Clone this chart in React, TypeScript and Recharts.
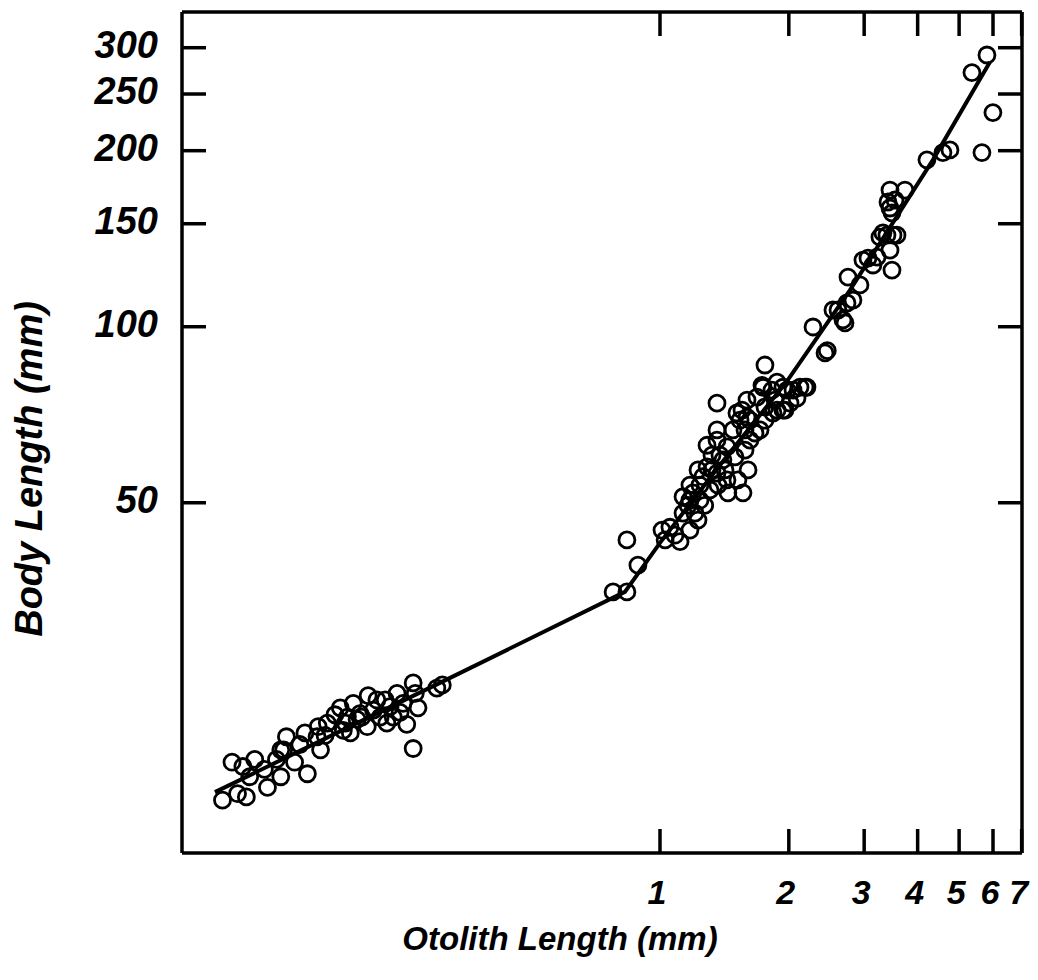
import React from 'react';
import { ScatterChart, Scatter, XAxis, YAxis } from 'recharts';

// Observed fish: otolith length (mm) and body length (mm)
const otolithLength = [
  0.095, 0.100, 0.106, 0.108, 0.103, 0.110, 0.121, 0.130, 0.130, 0.127,
  0.134, 0.132, 0.140, 0.150, 0.148, 0.158, 0.161, 0.159, 0.167, 0.174,
  0.179, 0.186, 0.189, 0.192, 0.196, 0.208, 0.207, 0.214, 0.222, 0.230,
  0.234, 0.243, 0.251, 0.256, 0.265, 0.265, 0.272, 0.268, 0.301, 0.310,
  0.182, 0.201, 0.218, 0.238,
  0.144, 0.165, 0.199, 0.228, 0.247, 0.184, 0.119, 0.113,
  0.777, 0.837, 0.888, 0.837, 1.359, 1.011, 1.055, 1.114, 1.175, 1.227,
  1.132, 1.194, 1.132, 1.207, 1.26, 1.288, 1.359, 1.434, 1.441, 1.563,
  1.521, 1.606, 1.288, 1.359, 1.434, 1.497, 1.403, 1.481, 1.538, 1.513,
  1.623, 1.667, 1.713, 1.597, 1.685, 1.759, 1.837, 1.959, 1.827, 1.938,
  2.046, 2.205, 2.09, 1.741, 1.759, 1.731, 1.877, 1.981, 2.182, 2.013,
  1.938, 2.278, 2.43, 2.46, 2.536, 2.677, 2.735, 2.824, 2.75, 2.933,
  2.98, 2.606, 2.706, 3.062, 3.214, 3.145, 3.484, 3.447, 3.266, 3.391,
  3.503, 3.447, 3.41, 3.447, 3.736, 4.205, 4.583, 4.76, 5.653, 5.808,
  5.357, 5.997, 3.484, 3.319, 3.579, 3.541,
  1.359, 1.597, 1.877, 2.124, 1.323, 1.24, 1.175, 1.084, 1.309, 1.381, 1.58,
  1.163, 1.24, 1.272, 1.227, 1.323, 1.419, 1.366, 1.58, 1.623, 1.759,
  1.555, 1.857, 1.175, 1.028,
];
const bodyLength = [
  15.5, 18.0, 17.7, 15.7, 15.9, 17.0, 16.3, 17.0, 18.9, 18.2,
  19.9, 18.9, 18.0, 17.2, 20.2, 19.9, 18.9, 20.7, 21.0, 21.7,
  22.3, 21.5, 20.2, 22.7, 21.3, 23.4, 20.7, 22.1, 21.5, 21.0,
  22.4, 23.6, 22.7, 20.9, 24.6, 19.0, 22.3, 23.6, 24.1, 24.4,
  20.4, 21.5, 23.0, 21.5,
  19.3, 20.0, 21.8, 23.0, 21.9, 21.0, 17.5, 18.2,
  35.2, 35.2, 39.1, 43.2, 74.0, 44.9, 45.4, 42.9, 44.9, 46.7,
  51.2, 52.0, 48.0, 48.0, 55.4, 57.6, 56.2, 54.7, 52.0, 52.0,
  54.7, 56.9, 62.7, 64.0, 62.3, 59.9, 59.2, 66.6, 69.2, 71.2,
  69.2, 65.8, 66.6, 74.9, 75.8, 72.9, 71.2, 72.0, 77.9, 78.8,
  77.9, 78.8, 75.5, 78.8, 86.0, 79.4, 80.4, 77.9, 78.8, 74.0,
  72.0, 99.9, 90.2, 91.0, 106.8, 102.7, 109.8, 111.1, 121.6, 117.9,
  130.0, 106.8, 101.5, 131.0, 131.5, 127.5, 125.0, 135.2, 142.3, 143.4,
  143.4, 159.6, 163.4, 171.3, 171.3, 192.9, 198.5, 200.6, 198.5, 291.5,
  272.0, 232.4, 156.6, 144.7, 143.4, 164.7,
  66.6, 70.0, 72.0, 78.8, 56.9, 53.6, 50.5, 44.0, 52.6, 60.3, 61.5,
  49.5, 50.5, 49.5, 56.9, 60.3, 56.9, 53.6, 66.6, 64.0, 69.2,
  72.0, 74.9, 53.6, 43.2,
];

// Fitted relationship
const fitOtolith = [0.0912, 0.306, 0.828, 1.0, 1.381, 1.981, 2.779, 4.343, 5.902];
const fitBody = [16.0, 24.6, 35.2, 42.7, 58.0, 80.7, 115.5, 192.9, 283.6];

const xTicks = [1, 2, 3, 4, 5, 6, 7];
const yTicks = [50, 100, 150, 200, 250, 300];
const xDomain = [0.0764, 7.013];
const yDomain = [12.59, 345.3];

const points = otolithLength.map((x, i) => ({ x, y: bodyLength[i] }));
const fit = fitOtolith.map((x, i) => ({ x, y: fitBody[i] }));

const FONT = '"Liberation Sans", Arial, Helvetica, sans-serif';
const TICK_LEN = 24;
const STROKE = 3.5;

const Circle = (props: any) => (
  <circle cx={props.cx} cy={props.cy} r={8} fill="none" stroke="#000" strokeWidth={2.8} />
);
const NoShape = () => <g />;

const BottomTick = (props: any) => {
  const { x, y, payload } = props;
  return (
    <g>
      <line x1={x} x2={x} y1={y} y2={y - TICK_LEN} stroke="#000" strokeWidth={STROKE} />
      <text x={x - 3} y={y + 51} textAnchor="middle" fontFamily={FONT} fontStyle="italic" fontWeight="bold" fontSize={34} fill="#000">
        {payload.value}
      </text>
    </g>
  );
};
const TopTick = (props: any) => {
  const { x, y } = props;
  return <line x1={x} x2={x} y1={y} y2={y + TICK_LEN} stroke="#000" strokeWidth={STROKE} />;
};
const LeftTick = (props: any) => {
  const { x, y, payload } = props;
  return (
    <g>
      <line x1={x} x2={x + TICK_LEN} y1={y} y2={y} stroke="#000" strokeWidth={STROKE} />
      <text x={x - 24} y={y + 10} textAnchor="end" fontFamily={FONT} fontStyle="italic" fontWeight="bold" fontSize={38} fill="#000">
        {payload.value}
      </text>
    </g>
  );
};
const RightTick = (props: any) => {
  const { x, y } = props;
  return <line x1={x} x2={x - TICK_LEN} y1={y} y2={y} stroke="#000" strokeWidth={STROKE} />;
};

const axisLine = { stroke: '#000', strokeWidth: STROKE };

export default function App() {
  return (
    <div style={{ position: 'absolute', left: 0, top: 0, width: 1038, height: 980, background: '#fff' }}>
      <ScatterChart width={1038} height={980} margin={{ top: 0, right: 0, bottom: 0, left: 0 }}>
        <XAxis xAxisId="b" orientation="bottom" type="number" dataKey="x" scale="log" domain={xDomain}
          allowDataOverflow ticks={xTicks} interval={0} height={127} tickSize={0} tickMargin={0}
          axisLine={axisLine} tickLine={false} tick={BottomTick} />
        <XAxis xAxisId="t" orientation="top" type="number" dataKey="x" scale="log" domain={xDomain}
          allowDataOverflow ticks={xTicks} interval={0} height={12} tickSize={0} tickMargin={0}
          axisLine={axisLine} tickLine={false} tick={TopTick} />
        <YAxis yAxisId="l" orientation="left" type="number" dataKey="y" scale="log" domain={yDomain}
          allowDataOverflow ticks={yTicks} interval={0} width={182} tickSize={0} tickMargin={0}
          axisLine={axisLine} tickLine={false} tick={LeftTick} />
        <YAxis yAxisId="r" orientation="right" type="number" dataKey="y" scale="log" domain={yDomain}
          allowDataOverflow ticks={yTicks} interval={0} width={16} tickSize={0} tickMargin={0}
          axisLine={axisLine} tickLine={false} tick={RightTick} />
        <Scatter xAxisId="b" yAxisId="l" data={fit} line={{ stroke: '#000', strokeWidth: 4 }}
          shape={NoShape} isAnimationActive={false} />
        <Scatter xAxisId="b" yAxisId="l" data={points} shape={Circle} isAnimationActive={false} />
        <Scatter xAxisId="t" yAxisId="r" data={[]} shape={NoShape} isAnimationActive={false} />
      </ScatterChart>
      <svg width={1038} height={980} style={{ position: 'absolute', left: 0, top: 0, pointerEvents: 'none' }}>
        <text x={560} y={950} textAnchor="middle" fontFamily={FONT} fontStyle="italic" fontWeight="bold" fontSize={33} fill="#000">
          Otolith Length (mm)
        </text>
        <text transform="translate(42,469) rotate(-90)" textAnchor="middle" fontFamily={FONT} fontStyle="italic" fontWeight="bold" fontSize={38} fill="#000">
          Body Length (mm)
        </text>
      </svg>
    </div>
  );
}
